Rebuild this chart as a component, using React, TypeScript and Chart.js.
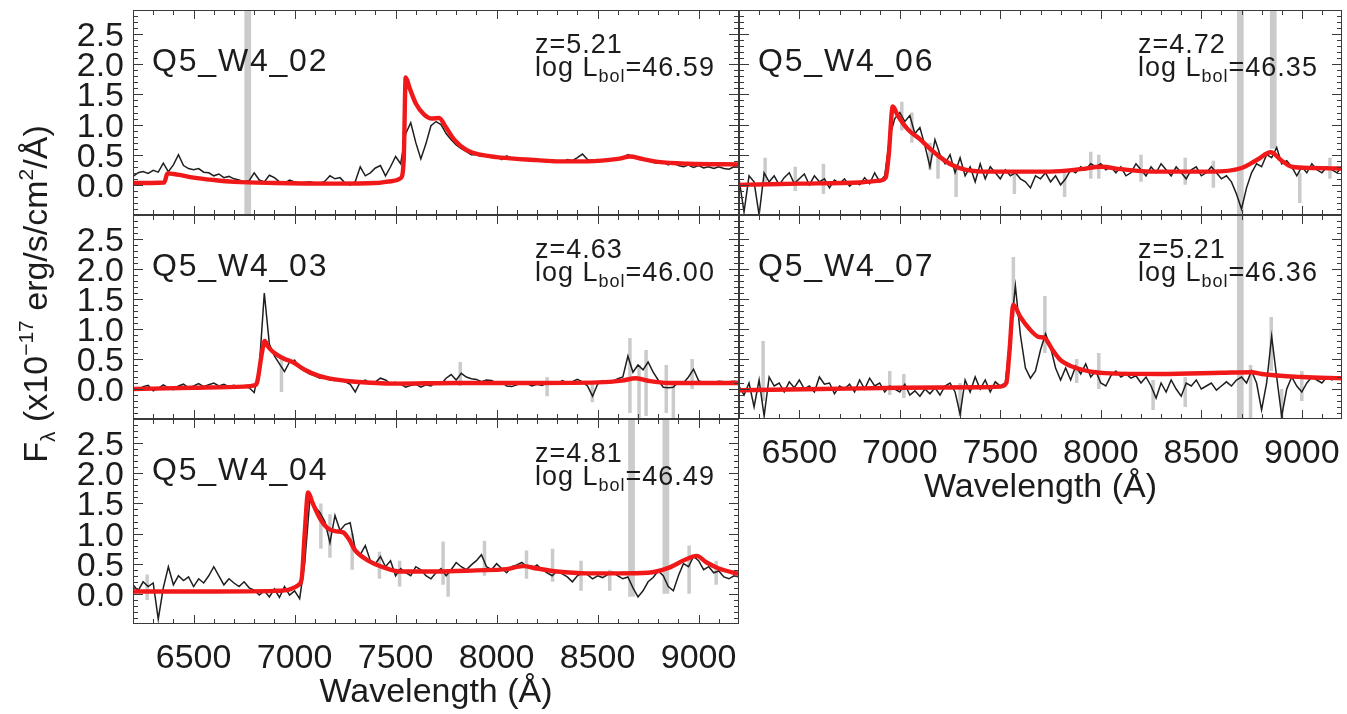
import React, { useEffect, useRef } from 'react';
import { Chart, registerables } from 'chart.js';

Chart.register(...registerables);

const W = 1347;
const H = 714;

// ---------- DATA ----------
const WAVELENGTH = [
  6200, 6225, 6250, 6275, 6300, 6325, 6350, 6375, 6400, 6425,
  6450, 6475, 6500, 6525, 6550, 6575, 6600, 6625, 6650, 6675,
  6700, 6725, 6750, 6775, 6800, 6825, 6850, 6875, 6900, 6925,
  6950, 6975, 7000, 7025, 7050, 7075, 7100, 7125, 7150, 7175,
  7200, 7225, 7250, 7275, 7300, 7325, 7350, 7375, 7400, 7425,
  7450, 7475, 7500, 7525, 7550, 7575, 7600, 7625, 7650, 7675,
  7700, 7725, 7750, 7775, 7800, 7825, 7850, 7875, 7900, 7925,
  7950, 7975, 8000, 8025, 8050, 8075, 8100, 8125, 8150, 8175,
  8200, 8225, 8250, 8275, 8300, 8325, 8350, 8375, 8400, 8425,
  8450, 8475, 8500, 8525, 8550, 8575, 8600, 8625, 8650, 8675,
  8700, 8725, 8750, 8775, 8800, 8825, 8850, 8875, 8900, 8925,
  8950, 8975, 9000, 9025, 9050, 9075, 9100, 9125, 9150, 9175,
  9200,
];

const P02_FLUX = [
  0.14, 0.20, 0.22, 0.19, 0.24, 0.21, 0.36, 0.22, 0.33, 0.50,
  0.32, 0.27, 0.25, 0.27, 0.21, 0.20, 0.15, 0.18, 0.12, 0.14,
  0.10, 0.08, 0.05, 0.07, 0.20, 0.08, 0.05, 0.16, 0.12, 0.05,
  0.03, 0.08, 0.05, 0.03, 0.04, 0.05, 0.03, 0.02, 0.06, 0.15,
  0.10, 0.12, 0.03, 0.00, 0.05, 0.30, 0.15, 0.20, 0.28, 0.32,
  0.15, 0.30, 0.47, 0.35, 0.85, 1.03, 0.70, 0.43, 0.68, 0.98,
  1.05, 1.00, 0.85, 0.75, 0.66, 0.60, 0.55, 0.50, 0.50, 0.47,
  0.50, 0.45, 0.48, 0.42, 0.48, 0.44, 0.45, 0.41, 0.43, 0.40,
  0.42, 0.40, 0.38, 0.41, 0.40, 0.37, 0.42, 0.40, 0.45, 0.51,
  0.42, 0.40, 0.42, 0.39, 0.43, 0.42, 0.45, 0.44, 0.50, 0.47,
  0.45, 0.42, 0.40, 0.37, 0.36, 0.38, 0.33, 0.37, 0.32, 0.30,
  0.33, 0.29, 0.32, 0.28, 0.30, 0.27, 0.30, 0.27, 0.26, 0.30,
  0.29,
];
const P02_MODEL_WAVE = [6200, 6355, 6370, 6420, 6500, 6600, 6700, 6900, 7200, 7400, 7480, 7525, 7540, 7550, 7570, 7600, 7640, 7680, 7715, 7750, 7790, 7850, 7920, 8000, 8100, 8200, 8300, 8450, 8600, 8660, 8720, 8800, 8950, 9200];
const P02_MODEL_FLUX = [0.03, 0.04, 0.19, 0.17, 0.12, 0.08, 0.05, 0.03, 0.02, 0.03, 0.06, 0.11, 0.40, 1.78, 1.60, 1.35, 1.17, 1.10, 1.11, 0.95, 0.75, 0.58, 0.50, 0.46, 0.43, 0.41, 0.39, 0.39, 0.43, 0.47, 0.43, 0.38, 0.35, 0.34];
const P02_SKY = [[6760, -0.6, 3.0], [6768, -0.6, 3.0], [6776, -0.6, 3.0]];

const P03_FLUX = [
  0.02, -0.02, 0.04, 0.06, -0.03, 0.01, 0.07, 0.02, -0.01, 0.05,
  0.08, 0.02, 0.05, 0.09, 0.04, 0.07, 0.10, 0.05, 0.08, 0.04,
  0.06, 0.03, 0.05, 0.02, -0.06, 0.35, 1.60, 0.75, 0.55, 0.42,
  0.29, 0.45, 0.48, 0.35, 0.30, 0.25, 0.22, 0.18, 0.20, 0.15,
  0.14, 0.16, 0.12, 0.08, -0.05, 0.12, 0.15, 0.08, 0.12, 0.18,
  0.15, 0.09, 0.11, 0.08, 0.03, 0.06, 0.08, 0.03, 0.07, 0.05,
  0.12, 0.08, 0.18, 0.24, 0.15, 0.26, 0.20, 0.17, 0.16, 0.12,
  0.15, 0.14, 0.10, 0.12, 0.05, 0.04, 0.07, 0.10, 0.09, 0.05,
  0.08, 0.06, 0.10, 0.12, 0.08, 0.14, 0.10, 0.12, 0.16, 0.12,
  0.05, -0.12, 0.08, 0.14, 0.10, 0.13, 0.17, 0.20, 0.55, 0.28,
  0.40, 0.32, 0.45, 0.28, 0.15, 0.03, 0.02, 0.03, 0.12, 0.10,
  0.20, 0.33, 0.14, 0.10, 0.12, 0.11, 0.13, 0.12, 0.12, 0.13,
  0.12,
];
const P03_MODEL_WAVE = [6200, 6500, 6750, 6800, 6815, 6838, 6852, 6870, 6900, 6950, 6990, 7050, 7120, 7200, 7300, 7500, 7800, 8200, 8500, 8620, 8690, 8760, 8850, 9200];
const P03_MODEL_FLUX = [0.00, 0.02, 0.04, 0.06, 0.12, 0.60, 0.80, 0.70, 0.60, 0.50, 0.45, 0.32, 0.22, 0.16, 0.12, 0.09, 0.10, 0.10, 0.11, 0.14, 0.18, 0.13, 0.10, 0.10];
const P03_SKY = [[6935, -0.05, 0.55], [7820, 0.05, 0.45], [8250, -0.12, 0.2], [8474, -0.22, 0.1], [8660, -0.4, 0.85], [8705, -0.6, 0.4], [8740, -0.45, 0.65], [8840, -0.4, 0.4], [8875, -0.6, 0.1], [8968, 0.0, 0.5]];

const P04_FLUX = [
  0.15, 0.05, 0.20, 0.12, 0.18, -0.42, 0.10, 0.45, 0.15, 0.30,
  0.22, 0.28, 0.12, 0.25, 0.18, 0.30, 0.45, 0.30, 0.15, 0.25,
  0.18, 0.12, 0.20, 0.10, 0.06, -0.02, 0.05, -0.05, 0.08, -0.06,
  0.12, -0.02, 0.05, -0.08, 0.50, 1.55, 1.45, 1.35, 1.20, 0.85,
  1.30, 1.05, 1.15, 1.18, 0.75, 0.65, 0.80, 0.55, 0.50, 0.62,
  0.45, 0.55, 0.30, 0.42, 0.35, 0.30, 0.45, 0.40, 0.30, 0.25,
  0.35, 0.42, 0.30, 0.40, 0.52, 0.45, 0.40, 0.48, 0.55, 0.65,
  0.45, 0.40, 0.50, 0.42, 0.35, 0.45, 0.48, 0.52, 0.45, 0.42,
  0.48, 0.40, 0.35, 0.30, 0.38, 0.33, 0.28, 0.20, 0.30, 0.35,
  0.32, 0.25, 0.30, 0.27, 0.32, 0.36, 0.30, 0.25, 0.28, 0.10,
  -0.05, 0.05, 0.20, 0.27, 0.38, 0.30, 0.12, 0.05, 0.30, 0.50,
  0.45, 0.62, 0.55, 0.40, 0.45, 0.35, 0.38, 0.28, 0.25, 0.30,
  0.28,
];
const P04_MODEL_WAVE = [6200, 6600, 6900, 6980, 7020, 7035, 7050, 7067, 7090, 7124, 7160, 7200, 7240, 7270, 7300, 7360, 7440, 7520, 7700, 7900, 8050, 8130, 8200, 8300, 8450, 8600, 8750, 8850, 8930, 8990, 9040, 9100, 9200];
const P04_MODEL_FLUX = [0.04, 0.04, 0.05, 0.08, 0.15, 0.25, 1.00, 1.68, 1.50, 1.26, 1.10, 1.04, 1.02, 0.90, 0.72, 0.56, 0.44, 0.37, 0.37, 0.39, 0.41, 0.46, 0.42, 0.37, 0.34, 0.34, 0.35, 0.43, 0.56, 0.63, 0.52, 0.42, 0.33];
const P04_SKY = [[6270, -0.1, 0.32], [7130, 0.75, 1.5], [7175, 0.6, 1.32], [7285, 0.4, 1.0], [7420, 0.25, 0.7], [7520, 0.12, 0.55], [7735, 0.15, 0.87], [7760, -0.05, 0.35], [7940, 0.3, 0.88], [8148, 0.25, 0.72], [8277, 0.2, 0.75], [8418, 0.05, 0.55], [8560, 0.05, 0.4], [8660, -0.05, 3.0], [8668, -0.05, 3.0], [8676, -0.05, 3.0], [8830, 0.0, 3.0], [8838, 0.0, 3.0], [8846, 0.0, 3.0], [8953, 0.0, 0.8], [9087, 0.15, 0.55]];

const P06_FLUX = [
  0.10, -0.45, 0.15, 0.05, -0.50, 0.20, 0.05, 0.15, 0.00, 0.12,
  0.20, 0.02, 0.10, 0.18, 0.00, 0.15, 0.05, 0.10, -0.05, 0.08,
  0.02, 0.10, -0.02, 0.05, 0.00, 0.12, 0.02, 0.20, 0.05, 0.15,
  0.80, 1.10, 1.20, 1.05, 1.15, 0.85, 0.95, 0.65, 0.30, 0.75,
  0.50, 0.35, 0.50, 0.20, 0.45, 0.15, 0.30, 0.05, 0.35, 0.10,
  0.30, 0.20, 0.10, 0.25, 0.15, 0.20, 0.10, 0.05, -0.05, 0.15,
  0.10, 0.20, 0.05, 0.15, 0.00, 0.10, 0.25, 0.20, 0.30, 0.25,
  0.35, 0.30, 0.35, 0.25, 0.30, 0.20, 0.30, 0.15, 0.20, 0.35,
  0.25, 0.15, 0.30, 0.20, 0.35, 0.25, 0.15, 0.30, 0.20, 0.10,
  0.25, 0.30, 0.15, 0.20, 0.30, 0.20, 0.10, 0.15, 0.05, -0.15,
  -0.40, -0.05, 0.20, 0.35, 0.30, 0.50, 0.45, 0.62, 0.35, 0.40,
  0.30, 0.15, 0.30, 0.20, 0.35, 0.25, 0.20, 0.30, 0.25, 0.20,
  0.30,
];
const P06_MODEL_WAVE = [6200, 6500, 6800, 6900, 6930, 6945, 6965, 6990, 7040, 7100, 7150, 7200, 7260, 7330, 7450, 7750, 7900, 8000, 8100, 8250, 8550, 8700, 8780, 8845, 8900, 8950, 9050, 9200];
const P06_MODEL_FLUX = [0.00, 0.02, 0.04, 0.07, 0.12, 0.50, 1.30, 1.15, 0.92, 0.76, 0.60, 0.46, 0.33, 0.25, 0.22, 0.22, 0.26, 0.30, 0.26, 0.22, 0.22, 0.28, 0.42, 0.54, 0.40, 0.30, 0.28, 0.27];
const P06_SKY = [[6330, 0.0, 0.45], [6480, -0.1, 0.3], [6620, -0.15, 0.35], [7010, 0.9, 1.38], [7060, 0.7, 1.2], [7150, 0.25, 0.7], [7190, 0.1, 0.55], [7280, -0.2, 0.3], [7570, -0.15, 0.25], [7820, -0.2, 0.25], [7950, 0.1, 0.55], [7990, 0.1, 0.5], [8200, 0.05, 0.5], [8420, 0.0, 0.45], [8560, -0.05, 0.4], [8686, -0.6, 3.0], [8694, -0.6, 3.0], [8702, -0.6, 3.0], [8850, 0.6, 3.0], [8858, 0.6, 3.0], [8866, 0.6, 3.0], [8990, -0.3, 0.2], [9140, 0.1, 0.45]];

const P07_FLUX = [
  0.05, -0.10, 0.10, -0.30, 0.15, -0.45, 0.20, 0.05, 0.10, -0.05,
  0.12, 0.02, 0.15, 0.00, 0.05, -0.05, 0.20, 0.08, 0.10, -0.08,
  0.05, 0.00, 0.08, -0.05, 0.15, 0.00, 0.18, 0.05, 0.10, -0.05,
  0.05, 0.00, -0.05, 0.08, -0.10, -0.03, -0.12, 0.00, -0.08, 0.02,
  -0.10, 0.05, 0.10, -0.05, -0.42, 0.15, -0.05, 0.20, 0.00, 0.15,
  -0.05, 0.12, 0.05, 0.10, 0.90, 1.72, 0.90, 0.35, 0.18, 0.30,
  0.65, 0.92, 0.70, 0.35, 0.15, 0.35, 0.15, 0.38, 0.25, 0.42,
  0.20, 0.30, 0.10, 0.05, 0.22, 0.30, 0.20, 0.25, 0.18, 0.22,
  0.10, 0.20, 0.05, -0.15, 0.10, -0.05, 0.15, 0.00, -0.12, 0.10,
  0.05, 0.15, 0.00, 0.05, 0.10, -0.02, 0.05, 0.12, 0.05, 0.15,
  0.20, 0.10, 0.30, 0.10, -0.35, 0.10, 0.88, 0.20, -0.45, 0.00,
  0.20, 0.05, -0.05, 0.10, 0.20, 0.15, 0.10, 0.20, 0.15, 0.20,
  0.18,
];
const P07_MODEL_WAVE = [6200, 6600, 7000, 7400, 7500, 7530, 7545, 7565, 7600, 7645, 7690, 7720, 7760, 7800, 7860, 7950, 8050, 8300, 8600, 8750, 8800, 9000, 9200];
const P07_MODEL_FLUX = [-0.02, 0.00, 0.02, 0.03, 0.04, 0.10, 0.60, 1.40, 1.20, 1.00, 0.87, 0.85, 0.65, 0.48, 0.37, 0.29, 0.26, 0.25, 0.27, 0.28, 0.25, 0.20, 0.18];
const P07_SKY = [[6320, -0.2, 0.8], [6950, -0.1, 0.3], [7020, -0.15, 0.25], [7300, -0.45, 0.1], [7565, 1.2, 2.2], [7722, 0.6, 1.55], [7880, 0.1, 0.5], [7990, 0.0, 0.6], [8260, -0.35, 0.15], [8420, -0.3, 0.2], [8686, -0.6, 3.0], [8694, -0.6, 3.0], [8702, -0.6, 3.0], [8745, -0.6, 0.4], [8848, 0.3, 1.2], [8900, -0.6, 0.0], [9000, -0.2, 0.3]];

const X_RANGE = [6200, 9200];
const Y_RANGE = [-0.5, 2.9];
const X_TICK_LABELS = [6500, 7000, 7500, 8000, 8500, 9000];
const Y_TICK_VALUES = [0, 0.5, 1.0, 1.5, 2.0, 2.5];
const Y_TICK_LABELS = ['0.0', '0.5', '1.0', '1.5', '2.0', '2.5'];
const X_TITLE = 'Wavelength (Å)';

// ---------- PANELS (layout) ----------
type Panel = {
  name: string; z: string; logL: string;
  flux: number[]; modelWave: number[]; modelFlux: number[]; sky: number[][];
  area: [number, number, number, number];
  yLabels: boolean; xLabels: boolean; yTitle: boolean;
};

const PANELS: Panel[] = [
  { name: 'Q5_W4_02', z: '5.21', logL: '46.59', flux: P02_FLUX, modelWave: P02_MODEL_WAVE, modelFlux: P02_MODEL_FLUX, sky: P02_SKY, area: [133, 10, 739, 215], yLabels: true, xLabels: false, yTitle: false },
  { name: 'Q5_W4_03', z: '4.63', logL: '46.00', flux: P03_FLUX, modelWave: P03_MODEL_WAVE, modelFlux: P03_MODEL_FLUX, sky: P03_SKY, area: [133, 215, 739, 419], yLabels: true, xLabels: false, yTitle: true },
  { name: 'Q5_W4_04', z: '4.81', logL: '46.49', flux: P04_FLUX, modelWave: P04_MODEL_WAVE, modelFlux: P04_MODEL_FLUX, sky: P04_SKY, area: [133, 419, 739, 624], yLabels: true, xLabels: true, yTitle: false },
  { name: 'Q5_W4_06', z: '4.72', logL: '46.35', flux: P06_FLUX, modelWave: P06_MODEL_WAVE, modelFlux: P06_MODEL_FLUX, sky: P06_SKY, area: [739, 10, 1342, 215], yLabels: false, xLabels: false, yTitle: false },
  { name: 'Q5_W4_07', z: '5.21', logL: '46.36', flux: P07_FLUX, modelWave: P07_MODEL_WAVE, modelFlux: P07_MODEL_FLUX, sky: P07_SKY, area: [739, 215, 1342, 419], yLabels: false, xLabels: true, yTitle: false },
];

const FONT = '"Liberation Sans", Arial, Helvetica, sans-serif';
const TEXT_COLOR = '#1c1c1c';

type Run = [string, number, number];

function runsWidth(ctx: CanvasRenderingContext2D, runs: Run[]) {
  let w = 0;
  for (const [t, s] of runs) {
    ctx.font = `${s}px ${FONT}`;
    w += ctx.measureText(t).width;
  }
  return w;
}
function drawRuns(ctx: CanvasRenderingContext2D, runs: Run[], x: number, y: number) {
  let cx = x;
  for (const [t, s, dy] of runs) {
    ctx.font = `${s}px ${FONT}`;
    ctx.fillText(t, cx, y + dy);
    cx += ctx.measureText(t).width;
  }
}

function decorPlugin(p: Panel) {
  return {
    id: 'panelDecor',
    afterDatasetsDraw(chart: any) {
      const ctx: CanvasRenderingContext2D = chart.ctx;
      const { left, top, right, bottom } = chart.chartArea;
      const xs = chart.scales.x;
      const ys = chart.scales.y;
      ctx.save();
      // frame
      ctx.strokeStyle = '#3a3a3a';
      ctx.lineWidth = 1;
      ctx.strokeRect(left + 0.5, top + 0.5, right - left - 1, bottom - top - 1);
      // ticks
      ctx.beginPath();
      for (let v = X_RANGE[0] + 100; v < X_RANGE[1]; v += 100) {
        const px = Math.round(xs.getPixelForValue(v)) + 0.5;
        const len = v % 500 === 0 ? 9 : 5;
        ctx.moveTo(px, bottom); ctx.lineTo(px, bottom - len);
        ctx.moveTo(px, top); ctx.lineTo(px, top + len);
      }
      for (let k = -4; k <= 28; k++) {
        const py = Math.round(ys.getPixelForValue(k / 10)) + 0.5;
        const len = k % 5 === 0 ? 10 : 5;
        ctx.moveTo(left, py); ctx.lineTo(left + len, py);
        ctx.moveTo(right, py); ctx.lineTo(right - len, py);
      }
      ctx.stroke();

      ctx.fillStyle = TEXT_COLOR;
      ctx.textBaseline = 'alphabetic';
      const c: any = ctx;
      // panel name
      c.letterSpacing = '1.8px';
      ctx.textAlign = 'left';
      ctx.font = `32px ${FONT}`;
      ctx.fillText(p.name, left + 19, top + 61);
      // z and luminosity
      c.letterSpacing = '1px';
      ctx.font = `27px ${FONT}`;
      ctx.fillText(`z=${p.z}`, right - 204, top + 43);
      drawRuns(ctx, [['log L', 27, 0], ['bol', 18, 6], [`=${p.logL}`, 27, 0]], right - 204, top + 66);
      c.letterSpacing = '0px';

      // y tick labels
      if (p.yLabels) {
        ctx.font = `34px ${FONT}`;
        ctx.textAlign = 'right';
        Y_TICK_VALUES.forEach((v, i) => {
          ctx.fillText(Y_TICK_LABELS[i], left - 9, ys.getPixelForValue(v) + 12);
        });
      }
      // x tick labels & title
      if (p.xLabels) {
        ctx.font = `34px ${FONT}`;
        ctx.textAlign = 'center';
        X_TICK_LABELS.forEach((v) => {
          ctx.fillText(String(v), xs.getPixelForValue(v), bottom + 44);
        });
        ctx.fillText(X_TITLE, (left + right) / 2, bottom + 78);
      }
      // y title
      if (p.yTitle) {
        const runs: Run[] = [['F', 34, 0], ['λ', 21, 8], [' (x10', 34, 0], ['−17', 21, -14], [' erg/s/cm', 34, 0], ['2', 21, -14], ['/Å)', 34, 0]];
        ctx.textAlign = 'left';
        ctx.translate(47, 294);
        ctx.rotate(-Math.PI / 2);
        const w = runsWidth(ctx, runs);
        drawRuns(ctx, runs, -w / 2, 0);
      }
      ctx.restore();
    },
  };
}

function PanelChart({ p }: { p: Panel }) {
  const ref = useRef<HTMLCanvasElement | null>(null);
  useEffect(() => {
    const canvas = ref.current;
    if (!canvas) return;
    const [l, t, r, b] = p.area;
    const spectrum = WAVELENGTH.map((x, i) => ({ x, y: p.flux[i] }));
    const model = p.modelWave.map((x, i) => ({ x, y: p.modelFlux[i] }));
    const sky: any[] = [];
    p.sky.forEach(([w, lo, hi]) => {
      sky.push({ x: w, y: lo }, { x: w, y: hi }, { x: w, y: null });
    });
    const chart = new Chart(canvas, {
      type: 'line',
      data: {
        datasets: [
          {
            data: model, borderColor: '#f01818', borderWidth: 4.4,
            cubicInterpolationMode: 'monotone', tension: 0.3, clip: 0, order: 0,
          } as any,
          {
            data: spectrum, borderColor: '#1e1e1e', borderWidth: 1.5,
            tension: 0, clip: 0, order: 1,
          } as any,
          {
            data: sky, borderColor: '#cbcbcb', borderWidth: 3.5,
            spanGaps: false, tension: 0, clip: 0, order: 2,
          } as any,
        ],
      },
      options: {
        responsive: false,
        animation: false,
        devicePixelRatio: 1,
        events: [],
        layout: { padding: { left: l, top: t, right: W - r, bottom: H - b } },
        plugins: { legend: { display: false }, tooltip: { enabled: false }, title: { display: false } },
        elements: { point: { radius: 0 } },
        scales: {
          x: { type: 'linear', min: X_RANGE[0], max: X_RANGE[1], display: false },
          y: { type: 'linear', min: Y_RANGE[0], max: Y_RANGE[1], display: false },
        },
      },
      plugins: [decorPlugin(p)],
    } as any);
    return () => chart.destroy();
  }, [p]);
  return (
    <canvas
      ref={ref}
      width={W}
      height={H}
      style={{ position: 'absolute', left: 0, top: 0, width: W, height: H }}
    />
  );
}

export default function App() {
  return (
    <div style={{ position: 'absolute', left: 0, top: 0, width: W, height: H, background: '#ffffff', overflow: 'hidden' }}>
      {PANELS.map((p) => (
        <PanelChart key={p.name} p={p} />
      ))}
    </div>
  );
}
